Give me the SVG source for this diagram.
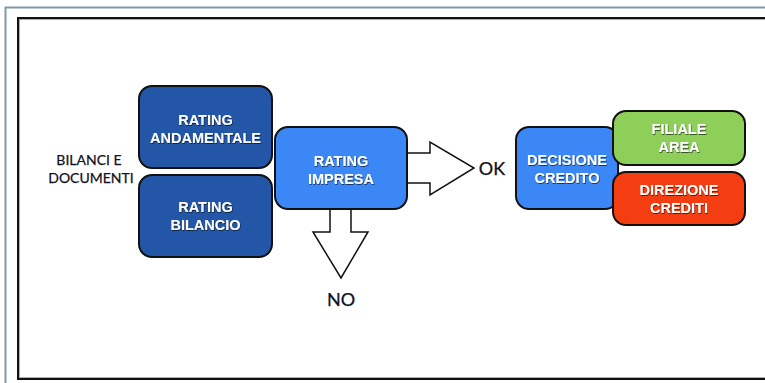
<svg xmlns="http://www.w3.org/2000/svg" width="765" height="383" viewBox="0 0 765 383">
<defs>
<filter id="ts" x="-10%" y="-30%" width="120%" height="160%">
<feDropShadow dx="0.6" dy="1" stdDeviation="0.6" flood-color="#000" flood-opacity="0.6"/>
</filter>
</defs>
<style>
.box{stroke:#111;stroke-width:2}
.dark{fill:#2356a6}
.blue{fill:#3b87f5}
.green{fill:#8ecf5a}
.red{fill:#f53d12}
.bt{font-family:"Liberation Sans",Arial,sans-serif;font-weight:bold;font-size:14.5px;fill:#fff;text-anchor:middle;filter:url(#ts)}
.lt{font-family:"Lato","Liberation Sans",sans-serif;fill:#111122;text-anchor:middle;stroke:#111122;stroke-width:0.25}
.arr{fill:#fff;stroke:#111;stroke-width:1.5;stroke-linejoin:miter}
</style>
<rect width="765" height="383" fill="#fff"/>
<path d="M5.5 383 V7.5 H765" fill="none" stroke="#7f98a8" stroke-width="2"/>
<rect x="18" y="18" width="760" height="361" fill="none" stroke="#111" stroke-width="2"/>
<rect x="19.5" y="19.5" width="760" height="358" fill="none" stroke="#999" stroke-width="0.8"/>

<g id="connectors">
<path class="arr" d="M400 153 H430 V142 L474 168 L430 195 V183 H400 Z"/>
<path class="arr" d="M330 205 V232 H313 L341 278 L368 232 H351 V205 Z"/>
</g>

<g id="bilanci">
<text class="lt" font-size="14" x="89" y="165">BILANCI E</text>
<text class="lt" font-size="14" x="91" y="183">DOCUMENTI</text>
</g>

<g id="rating-andamentale">
<rect class="box dark" x="139" y="86" width="133" height="82" rx="13"/>
<text class="bt" x="205.5" y="125">RATING</text>
<text class="bt" x="205.5" y="143">ANDAMENTALE</text>
</g>

<g id="rating-bilancio">
<rect class="box dark" x="139" y="175" width="133" height="82" rx="13"/>
<text class="bt" x="205.5" y="212">RATING</text>
<text class="bt" x="205.5" y="230">BILANCIO</text>
</g>

<g id="rating-impresa">
<rect class="box blue" x="275" y="127" width="132" height="82" rx="13"/>
<text class="bt" x="341" y="166">RATING</text>
<text class="bt" x="341" y="184">IMPRESA</text>
</g>

<g id="ok">
<text class="lt" font-size="18" x="492" y="175">OK</text>
</g>

<g id="no">
<text class="lt" font-size="18" x="341" y="306">NO</text>
</g>

<g id="decisione-credito">
<rect class="box blue" x="516" y="127" width="102" height="82" rx="13"/>
<text class="bt" x="567" y="165">DECISIONE</text>
<text class="bt" x="567" y="183">CREDITO</text>
</g>

<g id="filiale-area">
<rect class="box green" x="613" y="111" width="132" height="54" rx="13"/>
<text class="bt" x="679" y="134">FILIALE</text>
<text class="bt" x="679" y="152">AREA</text>
</g>

<g id="direzione-crediti">
<rect class="box red" x="613" y="172" width="132" height="53" rx="13"/>
<text class="bt" x="679" y="195">DIREZIONE</text>
<text class="bt" x="679" y="213">CREDITI</text>
</g>
</svg>
